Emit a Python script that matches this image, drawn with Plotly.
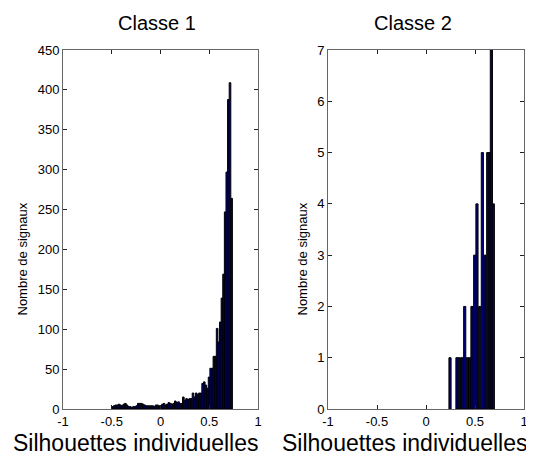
import plotly.graph_objects as go

# ---- data ----
# Classe 1: histogram of individual silhouettes (bin centers from -0.5, width ~0.0165)
bin_start1 = -0.5
bin_w1 = 0.0165
counts1 = [3, 4, 5, 5, 6, 5, 4, 6, 7, 5,
           3, 3, 2, 3, 3, 4, 7, 7, 7, 6,
           5, 4, 4, 4, 4, 4, 3, 5, 5, 4,
           4, 6, 7, 5, 6, 8, 7, 6, 7, 10,
           8, 9, 7, 7, 15, 11, 13, 12, 13, 13,
           20, 15, 20, 18, 20, 20, 32, 34, 30, 26,
           40, 51, 51, 66, 66, 101, 84, 109, 139, 169,
           247, 297, 388, 409, 264]
centers1 = [bin_start1 + (i + 0.5) * bin_w1 for i in range(len(counts1))]

# Classe 2
centers2 = [0.245, 0.316, 0.340, 0.367, 0.395, 0.421, 0.446, 0.469, 0.497,
            0.520, 0.548, 0.575, 0.602, 0.630, 0.653, 0.667, 0.687]
counts2 = [1, 1, 1, 1, 2, 1, 1, 2, 3, 4, 2, 5, 3, 5, 5, 7, 4]

xticks = [-1, -0.5, 0, 0.5, 1]
xticktext = ["-1", "-0.5", "0", "0.5", "1"]
yticks1 = list(range(0, 451, 50))
yticks2 = list(range(0, 8))

titles = ["Classe 1", "Classe 2"]
xlabel = "Silhouettes individuelles"
ylabel = "Nombre de signaux"

# ---- figure ----
# the page body has an 8px margin, so the figure is drawn 8px in from the corner
OFF = 8
W, H = 534 - OFF, 458 - OFF
FONT = "Arial, 'Liberation Sans', sans-serif"
BAR_FILL = "#00007f"


def px_x(p):
    return (p - OFF) / W


def px_y(p):
    return 1 - (p - OFF) / H


fig = go.Figure()
fig.add_trace(go.Bar(x=centers1, y=counts1, width=bin_w1,
                     marker=dict(color=BAR_FILL, line=dict(color="black", width=1)),
                     xaxis="x", yaxis="y"))
fig.add_trace(go.Bar(x=centers2, y=counts2, width=0.022,
                     marker=dict(color=BAR_FILL, line=dict(color="black", width=1)),
                     xaxis="x2", yaxis="y2"))

axis_common = dict(showgrid=False, zeroline=False, showline=True, linecolor="#666",
                   linewidth=1, mirror="ticks", ticks="inside", ticklen=4,
                   tickcolor="#222", tickwidth=1,
                   tickfont=dict(family=FONT, size=13, color="black"))

fig.update_layout(
    width=W, height=H,
    margin=dict(l=0, r=0, t=0, b=0, autoexpand=False),
    paper_bgcolor="white", plot_bgcolor="white",
    showlegend=False, barmode="overlay",
    xaxis=dict(domain=[px_x(63), px_x(258)], range=[-1, 1], tickvals=xticks,
               ticktext=xticktext, anchor="y", **axis_common),
    yaxis=dict(domain=[px_y(409), px_y(50)], range=[0, 450], tickvals=yticks1,
               anchor="x", **axis_common),
    xaxis2=dict(domain=[px_x(328), px_x(524)], range=[-1, 1], tickvals=xticks,
                ticktext=xticktext, anchor="y2", **axis_common),
    yaxis2=dict(domain=[px_y(409), px_y(50)], range=[0, 7], tickvals=yticks2,
                anchor="x2", **axis_common),
)

ann = []
for t, cx in zip(titles, [156.5, 413]):
    ann.append(dict(text=t, x=px_x(cx), y=px_y(23), xref="paper", yref="paper",
                    showarrow=False, xanchor="center", yanchor="middle",
                    font=dict(family=FONT, size=20, color="black")))
for cx in [135.5, 405]:
    ann.append(dict(text=xlabel, x=px_x(cx), y=px_y(443), xref="paper", yref="paper",
                    showarrow=False, xanchor="center", yanchor="middle",
                    font=dict(family=FONT, size=23, color="black")))
for cx in [21.5, 301.5]:
    ann.append(dict(text=ylabel, x=px_x(cx), y=px_y(259), xref="paper", yref="paper",
                    showarrow=False, xanchor="center", yanchor="middle", textangle=-90,
                    font=dict(family=FONT, size=13, color="black")))
fig.update_layout(annotations=ann)

fig.write_html("out.html")
